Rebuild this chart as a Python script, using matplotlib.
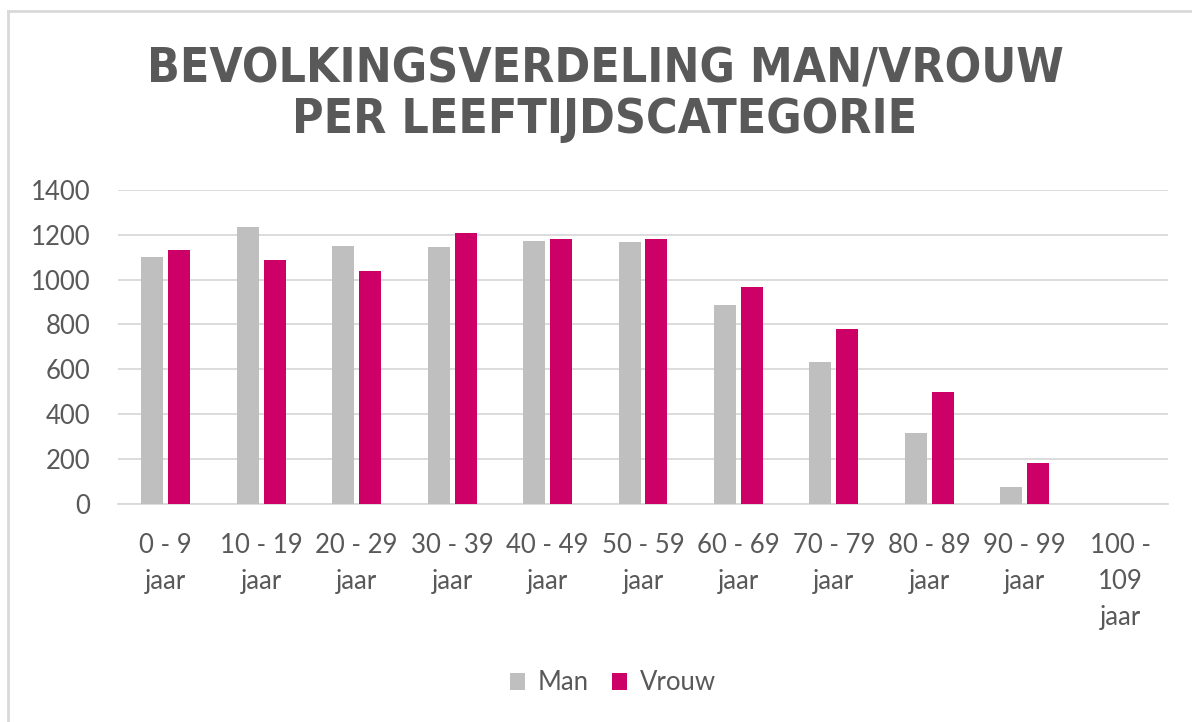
import matplotlib
matplotlib.use("Agg")
import matplotlib.pyplot as plt
from matplotlib.lines import Line2D
from matplotlib.patches import Patch
import numpy as np

categories = ["0 - 9\njaar", "10 - 19\njaar", "20 - 29\njaar", "30 - 39\njaar",
              "40 - 49\njaar", "50 - 59\njaar", "60 - 69\njaar", "70 - 79\njaar",
              "80 - 89\njaar", "90 - 99\njaar", "100 -\n109\njaar"]
man = [1100, 1237, 1152, 1145, 1173, 1167, 888, 631, 316, 75, 0]
vrouw = [1131, 1088, 1039, 1209, 1182, 1181, 967, 781, 497, 181, 0]
yticks = [0, 200, 400, 600, 800, 1000, 1200, 1400]
title = "BEVOLKINGSVERDELING MAN/VROUW\nPER LEEFTIJDSCATEGORIE"

GREY = "#BFBFBF"
MAGENTA = "#CC0066"
TXT = "#595959"
GRID = "#D9D9D9"
W, H = 1192, 722

fig = plt.figure(figsize=(W / 100, H / 100), dpi=100)
ax = fig.add_axes([118 / W, 1 - 503.5 / H, (1168 - 118) / W, (503.5 - 190) / H])

x = np.arange(len(categories))
bw = 0.23
off = 0.141
ax.bar(x - off, man, width=bw, color=GREY, label="Man", zorder=3)
ax.bar(x + off, vrouw, width=bw, color=MAGENTA, label="Vrouw", zorder=3)

ax.set_xlim(-0.5, len(categories) - 0.5)
ax.set_ylim(0, 1400)
ax.set_yticks(yticks)
ax.set_xticks(x)
ax.set_xticklabels(categories, family="Lato", fontsize=18.5, color=TXT,
                   linespacing=1.55, va="top")
for lab in ax.get_yticklabels():
    lab.set_family("Lato")
    lab.set_fontsize(18.5)
    lab.set_color(TXT)
ax.tick_params(axis="both", length=0)
ax.tick_params(axis="y", pad=20)
ax.tick_params(axis="x", pad=21)
ax.grid(axis="y", color=GRID, linewidth=1.3, zorder=0)
for s in ["top", "right", "left"]:
    ax.spines[s].set_visible(False)
ax.spines["bottom"].set_color(GRID)
ax.spines["bottom"].set_linewidth(1.3)

fig.text(605 / W, 1 - 94 / H, title, ha="center", va="center",
         family="DejaVu Sans", fontweight="bold", fontstretch="condensed",
         fontsize=34.5, color=TXT, linespacing=1.1)

handles = [Patch(facecolor=GREY, label="Man"), Patch(facecolor=MAGENTA, label="Vrouw")]
leg = fig.legend(handles=handles, loc="center", bbox_to_anchor=(613 / W, 1 - 683 / H),
                 ncol=2, frameon=False, prop={"family": "Lato", "size": 18.5},
                 handlelength=0.6, handleheight=0.6, handletextpad=0.5, columnspacing=0.9)
for t in leg.get_texts():
    t.set_color(TXT)

fig.add_artist(Line2D([8 / W, 8 / W], [0, 1 - 11 / H], color=GRID, linewidth=2))
fig.add_artist(Line2D([8 / W, 1], [1 - 11 / H, 1 - 11 / H], color=GRID, linewidth=2))

fig.savefig("out.png", dpi=100)
